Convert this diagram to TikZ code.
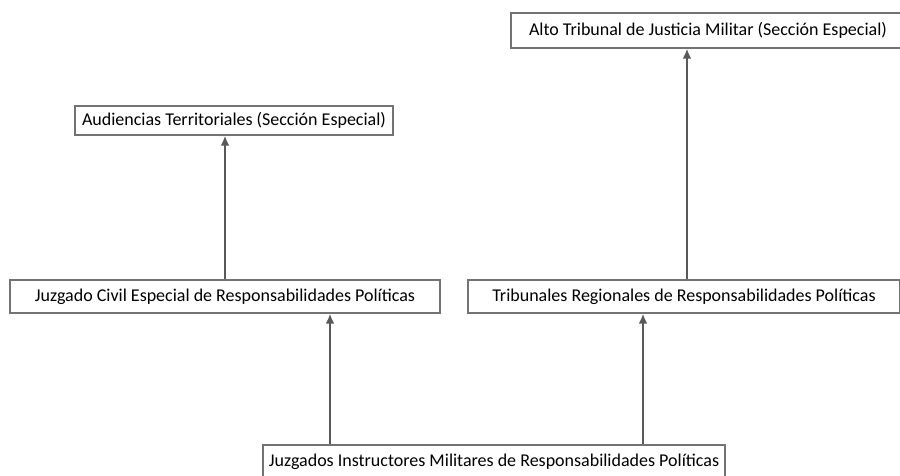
\documentclass[tikz,border=0pt]{standalone}
\usepackage{fontspec}
\setmainfont{Carlito}
\usetikzlibrary{arrows.meta}
\begin{document}
\begin{tikzpicture}[x=1pt,y=1pt,
    organo/.style={draw=black!55,line width=1.4pt,fill=white,inner sep=0pt,
        font=\fontsize{18}{20}\selectfont,text=black},
    recurso/.style={draw=black!65,line width=2.4pt,-{Latex[length=10pt,width=9pt]}}]
\useasboundingbox (0,0) rectangle (900,475);
\path[clip] (0,0) rectangle (900,475);
\node [organo,minimum width=394pt,minimum height=35pt] (alto) at (708,444.5)
    {Alto Tribunal de Justicia Militar (Sección Especial)};
\node [organo,minimum width=318pt,minimum height=29pt] (aud) at (234,354.5)
    {Audiencias Territoriales (Sección Especial)};
\node [organo,minimum width=430pt,minimum height=33pt] (civil) at (225,178.5)
    {Juzgado Civil Especial de Responsabilidades Políticas\hspace{18pt}};
\node [organo,minimum width=432pt,minimum height=33pt] (trib) at (684,178.5)
    {Tribunales Regionales de Responsabilidades Políticas};
\node [organo,minimum width=462pt,minimum height=34pt] (instr) at (494,13)
    {Juzgados Instructores Militares de Responsabilidades Políticas};
\coordinate (c1) at ([xshift=105pt]civil.south);
\coordinate (c2) at ([xshift=-41pt]trib.south);
\coordinate (c3) at ([xshift=3pt]trib.north);
\draw [recurso] (civil.north) -- (aud.south -| civil.north);
\draw [recurso] (c3) -- (alto.south -| c3);
\draw [recurso] (instr.north -| c1) -- (c1);
\draw [recurso] (instr.north -| c2) -- (c2);
\end{tikzpicture}
\end{document}
